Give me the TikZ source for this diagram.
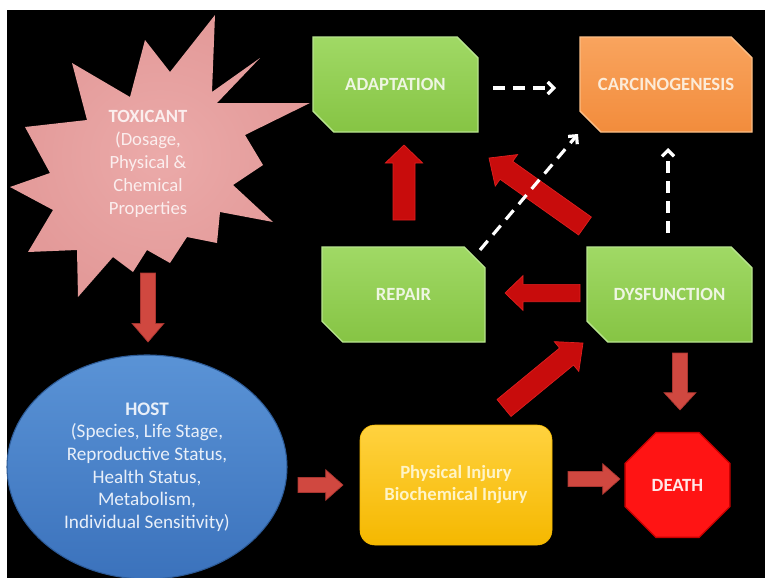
\documentclass[tikz,border=0pt]{standalone}
\usepackage{fontspec}
\setmainfont{Carlito}
\usetikzlibrary{calc,shapes.misc,shapes.geometric,arrows.meta}
\definecolor{greenTop}{HTML}{A0D965}
\definecolor{greenBot}{HTML}{86C444}
\definecolor{greenEdge}{HTML}{B8E48E}
\definecolor{greenText}{HTML}{EEF6E2}
\definecolor{orTop}{HTML}{F9A45E}
\definecolor{orBot}{HTML}{F28C3C}
\definecolor{orEdge}{HTML}{FBBE86}
\definecolor{orText}{HTML}{FCEBD8}
\definecolor{pinkIn}{HTML}{EBAAA9}
\definecolor{pinkOut}{HTML}{E39A99}
\definecolor{pinkText}{HTML}{FBEEEE}
\definecolor{blueTop}{HTML}{5A93D6}
\definecolor{blueBot}{HTML}{3B72BC}
\definecolor{blueEdge}{HTML}{2C5A96}
\definecolor{blueText}{HTML}{E8EFF9}
\definecolor{yelTop}{HTML}{FFD23F}
\definecolor{yelBot}{HTML}{F5B800}
\definecolor{yelText}{HTML}{FFF4C6}
\definecolor{deathFill}{HTML}{FF1414}
\definecolor{deathEdge}{HTML}{C80000}
\definecolor{deathText}{HTML}{FFE8E8}
\definecolor{salmonArr}{HTML}{D04840}
\definecolor{salmonEdge}{HTML}{A83530}
\definecolor{redArr}{HTML}{C80C0C}
\definecolor{redEdge}{HTML}{E02020}

\newcommand\blockarr[6]{%
  \coordinate (ba-h) at ($(#3)!#6!(#2)$);
  \filldraw[#1] ($(#2)!#4!90:(#3)$) -- ($(ba-h)!#4!90:(#3)$) -- ($(ba-h)!#5!90:(#3)$) -- (#3)
    -- ($(ba-h)!#5!-90:(#3)$) -- ($(ba-h)!#4!-90:(#3)$) -- ($(#2)!#4!-90:(#3)$) -- cycle;
}

\begin{document}
\begin{tikzpicture}[x=0.75pt,y=-0.75pt,
  lbl/.style={font=\fontsize{14}{17}\selectfont\bfseries, align=center},
  bevelbox/.style={chamfered rectangle, chamfered rectangle corners={north east,south west},
    chamfered rectangle xsep=11pt, chamfered rectangle ysep=11pt,
    minimum height=71.25pt, inner sep=0pt, line width=1pt, lbl},
  greenbox/.style={bevelbox, top color=greenTop, bottom color=greenBot, draw=greenEdge, text=greenText},
  orangebox/.style={bevelbox, top color=orTop, bottom color=orBot, draw=orEdge, text=orText},
  salmon/.style={fill=salmonArr, draw=salmonEdge, line width=0.5pt},
  redblock/.style={fill=redArr, draw=redEdge, line width=0.5pt},
  dasharrow/.style={white, line width=2.4pt, dash pattern=on 9pt off 6pt,
    -{Straight Barb[length=4.5pt,width=9pt]}}
]
\useasboundingbox (0,0) rectangle (765,578);
\clip (0,0) rectangle (765,578);
\fill[white] (0,0) rectangle (765,578);
\fill[black] (7,10) rectangle (765,578);

% starburst
\path[inner color=pinkIn, outer color=pinkOut]
  (215,15) -- (212,92) -- (260,58) -- (217,103) -- (310,103) -- (245,135) -- (263,165)
  -- (233,185) -- (273,222) -- (220,212) -- (217,243) -- (187,237) -- (170,263)
  -- (147,250) -- (133,272) -- (113,257) -- (78,297) -- (77,250) -- (28,252)
  -- (53,210) -- (10,187) -- (50,173) -- (25,127) -- (87,120) -- (72,63)
  -- (130,97) -- (145,40) -- (170,72) -- cycle;
\node[font=\fontsize{14}{17.25}\selectfont, align=center, text=pinkText] (toxicant) at (148,164)
  {\textbf{TOXICANT}\\(Dosage,\\Physical \&\\Chemical\\Properties};

% host
\node[ellipse, minimum width=210pt, minimum height=168pt, inner sep=0pt,
  top color=blueTop, bottom color=blueBot, draw=blueEdge, line width=0.8pt,
  text=blueText, font=\fontsize{14.4}{16.9}\selectfont, align=center] (host) at (147,467)
  {\textbf{HOST}\\(Species, Life Stage,\\Reproductive Status,\\Health Status,\\Metabolism,\\Individual Sensitivity)};

% boxes
\node[greenbox, minimum width=123.75pt] (adapt) at (395.5,84.5) {ADAPTATION};
\node[orangebox, minimum width=129pt] (carc) at (666,84.5) {CARCINOGENESIS};
\node[greenbox, minimum width=122.25pt] (repair) at (403.5,294.5) {REPAIR};
\node[greenbox, minimum width=123.75pt] (dys) at (669.5,294.5) {DYSFUNCTION};
\node[rectangle, rounded corners=11pt, minimum width=144pt, minimum height=90pt, inner sep=0pt,
  top color=yelTop, bottom color=yelBot, draw=yelBot, text=yelText,
  font=\fontsize{14}{16.5}\selectfont\bfseries, align=center] (injury) at (456,485)
  {Physical Injury\\Biochemical Injury};
\node[regular polygon, regular polygon sides=8, minimum size=85pt, inner sep=0pt,
  fill=deathFill, draw=deathEdge, line width=1pt, text=deathText, lbl] (death) at (677.5,485) {DEATH};

% arrow end points
\coordinate (a1s) at (148,273);  \coordinate (a1e) at (148,342);
\coordinate (a2s) at (298,485);  \coordinate (a2e) at (343,485);
\coordinate (a3s) at (568,479);  \coordinate (a3e) at (620,479);
\coordinate (a4s) at (680,353);  \coordinate (a4e) at (680,410);
\coordinate (a5s) at (404,220);  \coordinate (a5e) at (404,145);
\coordinate (a6s) at (585,226);  \coordinate (a6e) at (489,158);
\coordinate (a7s) at (580,293);  \coordinate (a7e) at (505,293);
\coordinate (a8s) at (504,408);  \coordinate (a8e) at (583,343);

\blockarr{salmon}{a1s}{a1e}{5.6pt}{12pt}{14pt}
\blockarr{salmon}{a2s}{a2e}{5.6pt}{11.5pt}{13pt}
\blockarr{salmon}{a3s}{a3e}{5.6pt}{11.5pt}{13pt}
\blockarr{salmon}{a4s}{a4e}{5.6pt}{12pt}{13pt}
\blockarr{redblock}{a5s}{a5e}{8.25pt}{14pt}{13.5pt}
\blockarr{redblock}{a6s}{a6e}{8.25pt}{14.5pt}{16pt}
\blockarr{redblock}{a7s}{a7e}{6.5pt}{13pt}{13.5pt}
\blockarr{redblock}{a8s}{a8e}{8.25pt}{14.5pt}{16pt}

% dashed connectors
\coordinate (d1s) at (493,88);  \coordinate (d1e) at (556,88);
\coordinate (d2s) at (480,250); \coordinate (d2e) at (578,134);
\coordinate (d3s) at (668,233); \coordinate (d3e) at (668,148);
\draw[dasharrow] (d1s) -- (d1e);
\draw[dasharrow] (d2s) -- (d2e);
\draw[dasharrow] (d3s) -- (d3e);
\end{tikzpicture}
\end{document}
